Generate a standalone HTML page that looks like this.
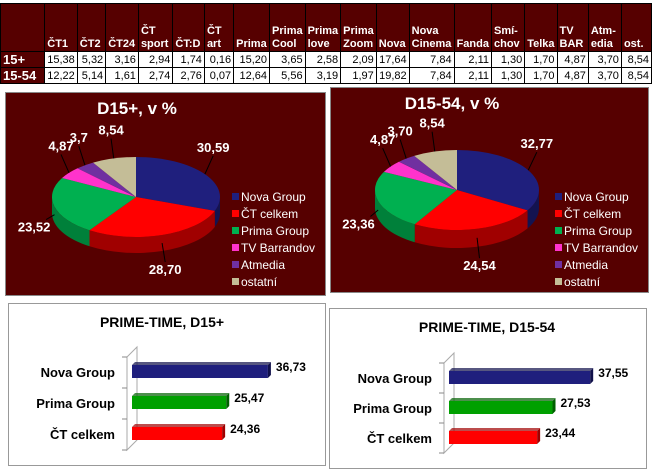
<!DOCTYPE html>
<html><head><meta charset="utf-8">
<style>
body{margin:0;width:652px;height:474px;background:#fff;position:relative;overflow:hidden;font-family:"Liberation Sans",sans-serif}
.abs{position:absolute}
#tbl{position:absolute;left:0;top:3px;border-collapse:collapse;table-layout:fixed}
#tbl td{border:1px solid #000;padding:0 2px;font-size:11px;overflow:hidden;white-space:nowrap}
#tbl tr.h td{background:#560000;color:#fff;font-weight:bold;vertical-align:bottom;height:47px;line-height:13px;text-align:left}
#tbl tr.d td{height:15px;text-align:right;color:#000;background:#fff}
#tbl tr.d td.rl{background:#560000;color:#fff;font-weight:bold;font-size:13px;text-align:left}
.panel{position:absolute;background:#560000;border:1px solid #888}
.bpanel{position:absolute;background:#fff;border:1px solid #999}
</style></head><body>
<table id="tbl">
<colgroup id="cg"></colgroup>
<tr class="h" id="hrow"></tr>
<tr class="d" id="r1"></tr>
<tr class="d" id="r2"></tr>
</table>

<div class="panel" style="left:5px;top:92px;width:319px;height:202px"></div>
<div class="panel" style="left:330px;top:87px;width:317px;height:204px"></div>
<div class="bpanel" style="left:8px;top:303px;width:316px;height:161px"></div>
<div class="bpanel" style="left:329px;top:308px;width:316px;height:159px"></div>

<svg id="svg" class="abs" style="left:0;top:0" width="652" height="474"></svg>

<script>
// ---- table data ----
const channels=["ČT1","ČT2","ČT24","ČT sport","ČT:D","ČT art","Prima","Prima Cool","Prima love","Prima Zoom","Nova","Nova Cinema","Fanda","Smí-chov","Telka","TV BAR","Atm-edia","ost."];
const row15=["15,38","5,32","3,16","2,94","1,74","0,16","15,20","3,65","2,58","2,09","17,64","7,84","2,11","1,30","1,70","4,87","3,70","8,54"];
const row1554=["12,22","5,14","1,61","2,74","2,76","0,07","12,64","5,56","3,19","1,97","19,82","7,84","2,11","1,30","1,70","4,87","3,70","8,54"];
const colW=[46,32,29,33,35,32,30,36,34,34,34,33,45,32,34,32,32,34,31];

// ---- pie data ----
const pieLabels=["Nova Group","ČT celkem","Prima Group","TV Barrandov","Atmedia","ostatní"];
const pie15=[30.59,28.70,23.52,4.87,3.7,8.54];
const pie15Text=["30,59","28,70","23,52","4,87","3,7","8,54"];
const pie1554=[32.77,24.54,23.36,4.87,3.70,8.54];
const pie1554Text=["32,77","24,54","23,36","4,87","3,70","8,54"];

// ---- bar data ----
const barCats=["Nova Group","Prima Group","ČT celkem"];
const bar15=[36.73,25.47,24.36];
const bar15Text=["36,73","25,47","24,36"];
const bar1554=[37.55,27.53,23.44];
const bar1554Text=["37,55","27,53","23,44"];

const cg=document.getElementById('cg');
colW.forEach(w=>{const c=document.createElement('col');c.style.width=w+'px';cg.appendChild(c);});
const hr=document.getElementById('hrow');
const h0=document.createElement('td');hr.appendChild(h0);


channels.forEach(ch=>{const td=document.createElement('td');
 let t=ch;
 if(ch.indexOf(" ")>0)t=ch.replace(" ","<br>");
 else if(ch.indexOf("-")>0)t=ch.replace("-","-<br>");
 td.innerHTML=t;
 
 
 hr.appendChild(td);});
function fillRow(id,lab,vals){const r=document.getElementById(id);
 const l=document.createElement('td');l.className='rl';l.textContent=lab;
 
 
 r.appendChild(l);
 vals.forEach(v=>{const td=document.createElement('td');td.textContent=v;
 
 
 r.appendChild(td);});}
fillRow('r1','15+',row15);fillRow('r2','15-54',row1554);

const NS="http://www.w3.org/2000/svg";
const svg=document.getElementById('svg');
function el(tag,attrs,parent){const e=document.createElementNS(NS,tag);for(const k in attrs)e.setAttribute(k,attrs[k]);(parent||svg).appendChild(e);return e;}

const topCols=["#1f1f7d","#ff0000","#00b050","#ff33cc","#7030a0","#c4bd97"];
const sideCols=["#131350","#a00000","#00803a","#b0208c","#4a1f6a","#8a8468"];

function drawPie(cx,cy,rx,ry,depth,vals,texts,title,tx,ty,legX,legY){
 const t=el('text',{x:tx,y:ty,fill:'#fff','font-size':'17','font-weight':'bold','text-anchor':'middle'});
 t.textContent=title;
 
 
 const total=vals.reduce((a,b)=>a+b,0);
 const P=(a,d)=>[cx+rx*Math.cos(a),cy+ry*Math.sin(a)+(d||0)];
 let angs=[];let a=-Math.PI/2;
 vals.forEach(v=>{const a2=a+v/total*2*Math.PI;angs.push([a,a2]);a=a2;});
 angs.forEach(([a1,a2],i)=>{
  let s=Math.max(a1,0),e=Math.min(a2,Math.PI);
  if(e<=s)return;
  const p1=P(s),p2=P(e),p3=P(e,depth),p4=P(s,depth);
  const d=`M${p1[0]},${p1[1]} A${rx},${ry} 0 0 1 ${p2[0]},${p2[1]} L${p3[0]},${p3[1]} A${rx},${ry} 0 0 0 ${p4[0]},${p4[1]} Z`;
  const p=el('path',{d:d,fill:sideCols[i]});
  
  
 });
 angs.forEach(([a1,a2],i)=>{
  const p1=P(a1),p2=P(a2);const large=(a2-a1)>Math.PI?1:0;
  const p=el('path',{d:`M${cx},${cy} L${p1[0]},${p1[1]} A${rx},${ry} 0 ${large} 1 ${p2[0]},${p2[1]} Z`,fill:topCols[i]});
  
  
  const m=(a1+a2)/2;
  const c=Math.cos(m), s=Math.sin(m);
  let lx=cx+rx*1.12*c, ly;
  if(s<0) ly=cy+ry*1.1*s-20; else ly=cy+ry*1.5*s+depth+4;
  if(s>=0&&s<0.5) lx=cx+rx*1.25*c;
  const e1=P(m,s>0?depth/2:0);
  const ln=el('line',{x1:e1[0],y1:e1[1],x2:lx+(s>=0&&s<0.5? (c<0?12:-12):0),y2:s<0?ly+4:ly-12,stroke:'#000','stroke-width':1});
  
  
  const lt=el('text',{x:lx,y:ly,fill:'#fff','font-size':'13','font-weight':'bold','text-anchor':'middle'});
  lt.textContent=texts[i];
  
  
 });
 pieLabels.forEach((lab,i)=>{
  const y=legY+i*17;
  const r=el('rect',{x:legX,y:y-7,width:7,height:7,fill:topCols[i]});
  
  
  const tt=el('text',{x:legX+9,y:y+1,fill:'#fff','font-size':'12'});
  tt.textContent=lab;
  
  
 });
}
drawPie(136,197,84,40,16,pie15,pie15Text,"D15+, v %",137,114,232,200);
drawPie(457,190,82,40,18,pie1554,pie1554Text,"D15-54, v %",452,109,555,200);

const barCols=["#1f1f7d","#00a000","#ff0000"];
const barDark=["#10104a","#006000","#a00000"];
function drawBars(x0,yTop,step,scale,vals,texts,title,titleX,titleY,labX){
 const t=el('text',{x:titleX,y:titleY,fill:'#000','font-size':'14','font-weight':'bold','text-anchor':'middle'});
 t.textContent=title;
 
 
 const wy1=yTop-12,wy2=yTop+step*3-12;
 const w=el('path',{d:`M${x0-5},${wy1+4} L${x0+5},${wy1-6} L${x0+5},${wy2-6} L${x0-5},${wy2+4} Z`,fill:'#fff',stroke:'#aaa'});
 
 
 for(let k=0;k<=3;k++){const l=el('line',{x1:x0-10,x2:x0-5,y1:wy1+4+k*step,y2:wy1+4+k*step,stroke:'#888'});
  
  }
 vals.forEach((v,i)=>{
  const y=yTop+i*step, h=13, len=v*scale;
  const top=el('path',{d:`M${x0},${y} L${x0+3},${y-3} L${x0+len+3},${y-3} L${x0+len},${y} Z`,fill:barDark[i],opacity:0.7});
  
  
  const r=el('rect',{x:x0,y:y,width:len,height:h,fill:barCols[i]});
  
  
  const s=el('path',{d:`M${x0+len},${y} L${x0+len+3},${y-3} L${x0+len+3},${y+h-3} L${x0+len},${y+h} Z`,fill:barDark[i]});
  
  
  const vt=el('text',{x:x0+len+8,y:y+6,fill:'#000','font-size':'12','font-weight':'bold'});
  vt.textContent=texts[i];
  
  
  const ct=el('text',{x:labX,y:y+12,fill:'#000','font-size':'13','font-weight':'bold','text-anchor':'end'});
  ct.textContent=barCats[i];
  
  
 });
}
drawBars(132,365,31,3.7,bar15,bar15Text,"PRIME-TIME, D15+",162,327,115);
drawBars(449,371,30,3.76,bar1554,bar1554Text,"PRIME-TIME, D15-54",487,332,432);
</script>
</body></html>
